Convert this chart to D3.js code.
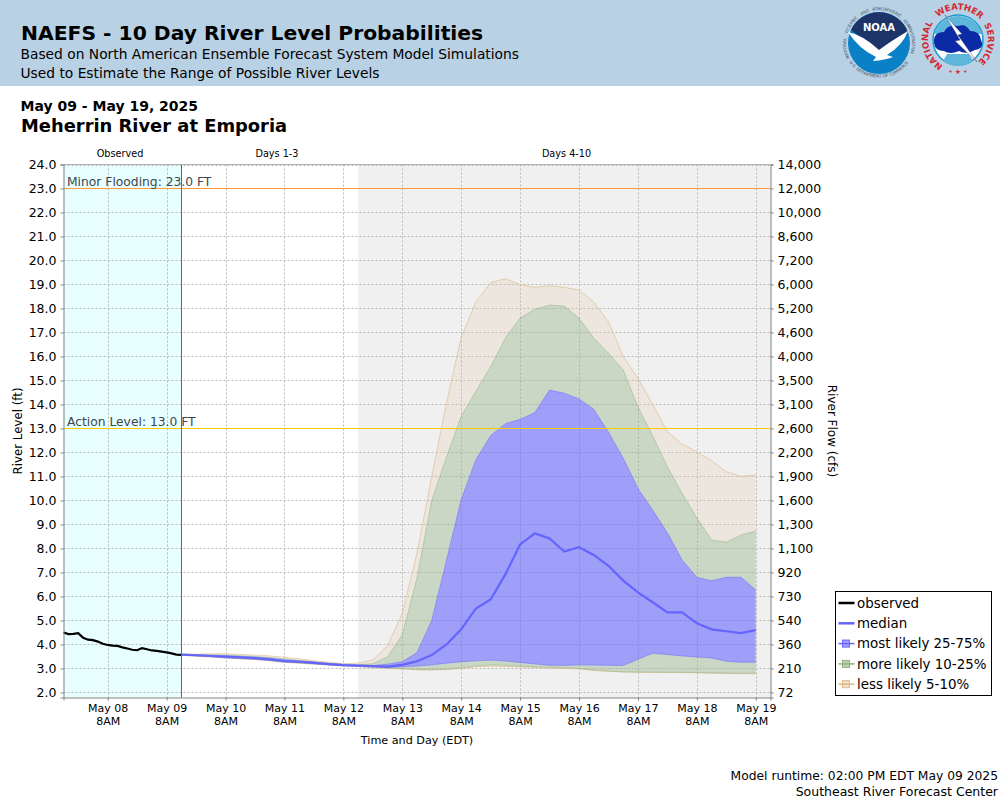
<!DOCTYPE html>
<html>
<head>
<meta charset="utf-8">
<title>NAEFS - 10 Day River Level Probabilities</title>
<script src="https://cdn.jsdelivr.net/npm/d3@7"></script>
<style>
  html, body { margin: 0; padding: 0; background: #fff; }
  svg { display: block; font-family: "DejaVu Sans", sans-serif; }
</style>
</head>
<body>
<svg id="chart"></svg>
<script>
// Chart data (times are EDT wall clock)
const parseTime = d3.utcParse("%Y-%m-%d %H");

const observedTimes = [
  "05-07 14", "05-07 16", "05-07 18", "05-07 20", "05-07 22", "05-08 00", "05-08 02", "05-08 04", "05-08 06",
  "05-08 08", "05-08 10", "05-08 12", "05-08 14", "05-08 16", "05-08 18", "05-08 20", "05-08 22", "05-09 00",
  "05-09 02", "05-09 04", "05-09 06", "05-09 08", "05-09 10", "05-09 12", "05-09 14"
].map((t) => parseTime("2025-" + t));
const observed = [
  4.5, 4.43, 4.44, 4.47, 4.28, 4.2, 4.18, 4.12, 4.03, 3.98, 3.95, 3.94, 3.88,
  3.83, 3.78, 3.76, 3.85, 3.8, 3.75, 3.73, 3.7, 3.67, 3.63, 3.58, 3.57
];

const forecastTimes = [
  "05-09 14", "05-09 20", "05-10 02", "05-10 08", "05-10 14", "05-10 20", "05-11 02", "05-11 08",
  "05-11 14", "05-11 20", "05-12 02", "05-12 08", "05-12 14", "05-12 20", "05-13 02", "05-13 08",
  "05-13 14", "05-13 20", "05-14 02", "05-14 08", "05-14 14", "05-14 20", "05-15 02", "05-15 08",
  "05-15 14", "05-15 20", "05-16 02", "05-16 08", "05-16 14", "05-16 20", "05-17 02", "05-17 08",
  "05-17 14", "05-17 20", "05-18 02", "05-18 08", "05-18 14", "05-18 20", "05-19 02", "05-19 08"
].map((t) => parseTime("2025-" + t));

const median = [
  3.58, 3.55, 3.52, 3.49, 3.46, 3.43, 3.38, 3.31, 3.28, 3.23, 3.18, 3.14, 3.12, 3.1, 3.08, 3.15, 3.3, 3.56, 4.0, 4.63,
  5.5, 5.88, 6.92, 8.17, 8.63, 8.42, 7.87, 8.05, 7.73, 7.28, 6.66, 6.17, 5.76, 5.34, 5.34, 4.88, 4.63, 4.55, 4.47, 4.6
];
const upper75 = [
  3.59, 3.57, 3.55, 3.53, 3.5, 3.47, 3.43, 3.36, 3.32, 3.27, 3.21, 3.16, 3.13, 3.12, 3.18, 3.28, 3.66, 5.0, 7.5, 10.03,
  11.7, 12.7, 13.2, 13.38, 13.66, 14.6, 14.47, 14.23, 13.8, 12.85, 11.76, 10.5, 9.6, 8.65, 7.52, 6.8, 6.65, 6.8, 6.8, 6.27
];
const lower25 = [
  3.57, 3.53, 3.5, 3.45, 3.42, 3.39, 3.34, 3.27, 3.24, 3.2, 3.16, 3.12, 3.1, 3.08, 3.03, 3.07, 3.1, 3.15, 3.22, 3.28,
  3.32, 3.35, 3.31, 3.25, 3.19, 3.13, 3.13, 3.15, 3.14, 3.13, 3.12, 3.38, 3.63, 3.58, 3.52, 3.48, 3.44, 3.3, 3.26, 3.26
];
const upper90 = [
  3.59, 3.58, 3.57, 3.56, 3.53, 3.5, 3.46, 3.4, 3.34, 3.28, 3.22, 3.18, 3.15, 3.2, 3.48, 4.4, 6.77, 10.0, 11.8, 13.5,
  14.55, 15.57, 16.77, 17.6, 17.97, 18.14, 18.1, 17.6, 16.77, 16.13, 15.44, 13.9, 12.7, 11.4, 10.3, 9.27, 8.35, 8.26, 8.56, 8.73
];
const lower10 = [
  3.56, 3.52, 3.49, 3.44, 3.41, 3.38, 3.33, 3.26, 3.23, 3.19, 3.15, 3.11, 3.09, 3.05, 3.02, 3.0, 2.95, 2.95, 2.97, 3.02,
  3.11, 3.14, 3.13, 3.1, 3.07, 3.05, 3.03, 3.0, 2.93, 2.89, 2.86, 2.85, 2.85, 2.84, 2.84, 2.83, 2.82, 2.81, 2.8, 2.8
];
const upper95 = [
  3.6, 3.6, 3.61, 3.61, 3.58, 3.56, 3.52, 3.47, 3.4, 3.32, 3.26, 3.2, 3.22, 3.35, 3.95, 5.3, 7.8, 11.0, 14.05, 16.8,
  18.27, 19.08, 19.24, 19.0, 18.88, 18.95, 18.88, 18.77, 18.27, 17.45, 16.0, 15.1, 14.0, 12.87, 12.35, 12.03, 11.66, 11.2, 11.0, 11.07
];
const lower5 = [
  3.55, 3.51, 3.48, 3.43, 3.4, 3.37, 3.32, 3.25, 3.22, 3.18, 3.14, 3.1, 3.08, 3.04, 3.0, 2.98, 2.95, 2.94, 2.96, 3.0,
  3.07, 3.1, 3.08, 3.06, 3.04, 3.01, 3.0, 2.99, 2.92, 2.88, 2.85, 2.84, 2.83, 2.83, 2.83, 2.82, 2.8, 2.79, 2.78, 2.78
];

const stageTicks = d3.range(2, 25);
const flowLabels = [
  "72", "210", "360", "540", "730", "920", "1,100", "1,300", "1,600", "1,900", "2,200", "2,600",
  "3,100", "3,500", "4,000", "4,600", "5,200", "6,000", "7,200", "8,600", "10,000", "12,000", "14,000"
];
const dayTicks = ["05-08", "05-09", "05-10", "05-11", "05-12", "05-13", "05-14", "05-15", "05-16", "05-17", "05-18", "05-19"]
  .map((t) => parseTime("2025-" + t + " 08"));

const thresholds = [
  { label: "Minor Flooding: 23.0 FT", value: 23, color: "#ff9933" },
  { label: "Action Level: 13.0 FT", value: 13, color: "#ffcc00" },
];

const timeStart = parseTime("2025-05-07 14");
const timeEnd = parseTime("2025-05-19 14");
const runTime = parseTime("2025-05-09 14");
const day4Start = parseTime("2025-05-12 14");

const tanColor = "rgb(222,184,135)";
const greenColor = "rgb(143,178,130)";
const blueColor = "rgb(100,100,255)";

// Set up the chart dimensions
const width = 1000;
const height = 800;
const plot = { left: 63.5, right: 770.5, top: 164.5, bottom: 697.5 };

const svg = d3.select("#chart").attr("width", width).attr("height", height);

const x = d3.scaleUtc().domain([timeStart, timeEnd]).range([plot.left, plot.right]);
const y = d3.scaleLinear().domain([1.79, 24]).range([plot.bottom, plot.top]);

// Header band
svg.append("rect").attr("width", width).attr("height", 86).attr("fill", "#b9d1e4");
svg.append("text").attr("x", 21).attr("y", 40).style("font-size", "20.3px").style("font-weight", "bold")
  .text("NAEFS - 10 Day River Level Probabilities");
svg.append("text").attr("x", 20.5).attr("y", 59).style("font-size", "13.8px")
  .text("Based on North American Ensemble Forecast System Model Simulations");
svg.append("text").attr("x", 20.5).attr("y", 78).style("font-size", "13.8px")
  .text("Used to Estimate the Range of Possible River Levels");
svg.append("text").attr("x", 20.5).attr("y", 110.5).style("font-size", "14px").style("font-weight", "bold")
  .text("May 09 - May 19, 2025");
svg.append("text").attr("x", 21).attr("y", 132).style("font-size", "17.9px").style("font-weight", "bold")
  .text("Meherrin River at Emporia");

// Logos
drawNoaaLogo(svg.append("g").attr("transform", "translate(879,43)"));
drawNwsLogo(svg.append("g").attr("transform", "translate(958,40)"));

function drawNoaaLogo(g) {
  g.append("circle").attr("r", 31).attr("fill", "#0a80c6");
  // dark sky on top, cut by the white bird
  g.append("path").attr("d", "M-28,-13 A31,31 0 0 1 28,-13 L24,-4 Q13,2 2,12 Q-12,-2 -28,-13 Z").attr("fill", "#1d3468");
  g.append("path").attr("d", "M-31,-11 Q-16,-8 0,7 Q12,-2 29,-12 Q24,2 8,12 L14,14 Q6,17 -6,18 L-3,14 Q-20,6 -31,-11 Z").attr("fill", "#fff");
  g.append("text").attr("text-anchor", "middle").attr("y", -12).attr("fill", "#fff")
    .style("font-size", "10px").style("font-weight", "bold").text("NOAA");
  const arcs = g.append("defs");
  arcs.append("path").attr("id", "noaaTop").attr("d", "M-29.5,15 A33,33 0 1 1 29.5,15");
  arcs.append("path").attr("id", "noaaBottom").attr("d", "M-31,17 A36,36 0 0 0 31,17");
  const topWords = [
    { word: "NATIONAL", offset: "0%" },
    { word: "OCEANIC", offset: "19%" },
    { word: "AND", offset: "36%" },
    { word: "ATMOSPHERIC", offset: "45%" },
    { word: "ADMINISTRATION", offset: "70%" },
  ];
  topWords.forEach((d) => {
    g.append("text").attr("fill", "#3d4c5c").style("font-size", "4.1px")
      .append("textPath").attr("href", "#noaaTop").attr("startOffset", d.offset).text(d.word);
  });
  g.append("text").attr("fill", "#3d4c5c").style("font-size", "4.1px")
    .append("textPath").attr("href", "#noaaBottom").attr("startOffset", "50%").attr("text-anchor", "middle")
    .text("U.S. DEPARTMENT OF COMMERCE");
}

function drawNwsLogo(g) {
  g.append("circle").attr("r", 25).attr("fill", "#fff").attr("stroke", "#1c9ad0").attr("stroke-width", 1.5);
  g.append("path").attr("d", "M-24,-6 A25,25 0 0 1 24,-6 Z").attr("fill", "#5fb6dc");
  g.append("path").attr("d", "M-15,21 A25,25 0 0 0 15,21 L11,14 L-11,14 Z").attr("fill", "#5fb6dc");
  g.append("path")
    .attr("d", "M-24,3 Q-25,-8 -14,-8 Q-10,-16 0,-14 Q8,-17 12,-9 Q22,-9 23,0 Q27,8 17,10 Q8,15 1,11 Q-8,15 -14,11 Q-23,11 -24,3 Z")
    .attr("fill", "#0b2aa5");
  g.append("path").attr("d", "M-13,-25 L4,-6 L0,-5 L19,22 L-3,1 L2,0 Z").attr("fill", "#fff").attr("stroke", "#23305f").attr("stroke-width", 0.4);
  const arcs = g.append("defs");
  arcs.append("path").attr("id", "nwsTop").attr("d", "M-15,25.5 A30,30 0 1 1 15,25.5");
  const words = [
    { word: "NATIONAL", offset: "0%" },
    { word: "WEATHER", offset: "36%" },
    { word: "SERVICE", offset: "70%" },
  ];
  words.forEach((d) => {
    g.append("text").attr("fill", "#d42630").style("font-size", "8.6px").style("font-weight", "bold")
      .append("textPath").attr("href", "#nwsTop").attr("startOffset", d.offset).text(d.word);
  });
  g.append("text").attr("y", 34).attr("text-anchor", "middle").attr("fill", "#d42630").style("font-size", "7px").text("• ★ •");
}

// Plot backgrounds
svg.append("rect").attr("x", x(timeStart)).attr("y", plot.top).attr("width", x(runTime) - x(timeStart))
  .attr("height", plot.bottom - plot.top).attr("fill", "#e8ffff");
svg.append("rect").attr("x", x(day4Start)).attr("y", plot.top).attr("width", x(timeEnd) - x(day4Start))
  .attr("height", plot.bottom - plot.top).attr("fill", "#f0f0f0");

// Grid
svg.append("g").selectAll("line").data(stageTicks).enter().append("line")
  .attr("x1", plot.left).attr("x2", plot.right)
  .attr("y1", (d) => Math.round(y(d)) + 0.5).attr("y2", (d) => Math.round(y(d)) + 0.5)
  .attr("stroke", "#bbbbbb").attr("stroke-dasharray", "2,2");
svg.append("g").selectAll("line").data(dayTicks).enter().append("line")
  .attr("y1", plot.top).attr("y2", plot.bottom)
  .attr("x1", (d) => Math.round(x(d)) + 0.5).attr("x2", (d) => Math.round(x(d)) + 0.5)
  .attr("stroke", "#bbbbbb").attr("stroke-dasharray", "2,2");

// Probability bands, outer to inner
const bandArea = d3.area().x((d) => x(d.t)).y0((d) => y(d.lo)).y1((d) => y(d.hi));
const bandLine = d3.line().x((d) => x(d.t)).y((d) => y(d.v));

function drawBand(hi, lo, color, fillOpacity) {
  const rows = forecastTimes.map((t, i) => ({ t: t, hi: hi[i], lo: lo[i] }));
  svg.append("path").attr("d", bandArea(rows)).attr("fill", color).attr("fill-opacity", fillOpacity);
}

function drawEdge(values, color, strokeOpacity) {
  const rows = forecastTimes.map((t, i) => ({ t: t, v: values[i] }));
  svg.append("path").attr("d", bandLine(rows)).attr("fill", "none")
    .attr("stroke", color).attr("stroke-width", 1).attr("stroke-opacity", strokeOpacity);
}

drawBand(upper95, upper90, tanColor, 0.17);
drawBand(lower5, lower10, tanColor, 0.17);
drawBand(upper90, upper75, greenColor, 0.4);
drawBand(lower10, lower25, greenColor, 0.4);
drawBand(upper75, lower25, blueColor, 0.58);
drawEdge(upper95, tanColor, 0.6);
drawEdge(lower5, tanColor, 0.6);
drawEdge(upper90, greenColor, 0.5);
drawEdge(lower10, greenColor, 0.5);
drawEdge(upper75, blueColor, 0.5);
drawEdge(lower25, blueColor, 0.5);

// Median and observed lines
svg.append("path")
  .attr("d", bandLine(forecastTimes.map((t, i) => ({ t: t, v: median[i] }))))
  .attr("fill", "none").attr("stroke", blueColor).attr("stroke-width", 2.2);
svg.append("path")
  .attr("d", bandLine(observedTimes.map((t, i) => ({ t: t, v: observed[i] }))))
  .attr("fill", "none").attr("stroke", "#000").attr("stroke-width", 2.2);

// Threshold lines and labels
thresholds.forEach((d) => {
  svg.append("line").attr("x1", plot.left).attr("x2", plot.right)
    .attr("y1", Math.round(y(d.value)) + 0.5).attr("y2", Math.round(y(d.value)) + 0.5)
    .attr("stroke", d.color);
  svg.append("text").attr("x", 67).attr("y", y(d.value) - 2.5).attr("fill", "#3c4650")
    .style("font-size", "12.3px").text(d.label);
});

// Model runtime marker
svg.append("line").attr("x1", Math.round(x(runTime)) + 0.5).attr("x2", Math.round(x(runTime)) + 0.5)
  .attr("y1", plot.top).attr("y2", plot.bottom).attr("stroke", "#e03030");

// Axes
const axisLeft = d3.axisLeft(y).tickValues(stageTicks).tickSize(3).tickPadding(4).tickFormat(d3.format(".1f"));
const axisRight = d3.axisRight(y).tickValues(stageTicks).tickSize(3).tickPadding(4)
  .tickFormat((d) => flowLabels[stageTicks.indexOf(d)]);
const axisBottom = d3.axisBottom(x).tickValues(dayTicks).tickSize(3).tickPadding(4).tickFormat("");

function styleAxis(g) {
  g.selectAll("text").attr("fill", "#000").style("font-family", "DejaVu Sans").style("font-size", "12.5px");
  g.selectAll("path, line").attr("stroke", "#808080");
}

svg.append("g").attr("transform", `translate(${plot.left},0)`).call(axisLeft).call(styleAxis);
svg.append("g").attr("transform", `translate(${plot.right},0)`).call(axisRight).call(styleAxis);
const bottomAxis = svg.append("g").attr("transform", `translate(0,${plot.bottom})`).call(axisBottom).call(styleAxis);

// Two line labels under each day tick
const dayLabel = d3.utcFormat("%b %d");
bottomAxis.selectAll(".tick text").each(function (d) {
  const t = d3.select(this).style("font-size", "11px").attr("y", 14.5).attr("dy", null);
  t.append("tspan").attr("x", 0).text(dayLabel(d));
  t.append("tspan").attr("x", 0).attr("dy", 13).text("8AM");
});

svg.append("line").attr("x1", plot.left).attr("x2", plot.right).attr("y1", plot.top).attr("y2", plot.top).attr("stroke", "#b0b0b0");

// Period labels on top
const periodLabels = [
  { text: "Observed", cx: 120 },
  { text: "Days 1-3", cx: 277 },
  { text: "Days 4-10", cx: 566.5 },
];
svg.append("g").selectAll("text").data(periodLabels).enter().append("text")
  .attr("x", (d) => d.cx).attr("y", 157).attr("text-anchor", "middle")
  .style("font-size", "9.7px").text((d) => d.text);

// Axis titles
svg.append("text").attr("x", 417).attr("y", 744).attr("text-anchor", "middle").style("font-size", "11.2px")
  .text("Time and Day (EDT)");
svg.append("text").attr("transform", "translate(22,431) rotate(-90)").attr("text-anchor", "middle").style("font-size", "11.8px")
  .text("River Level (ft)");
svg.append("text").attr("transform", "translate(828,431) rotate(90)").attr("text-anchor", "middle").style("font-size", "12px")
  .text("River Flow (cfs)");

// Legend
const legendItems = [
  { label: "observed", color: "#000", width: 2, swatch: false },
  { label: "median", color: blueColor, width: 2, swatch: false },
  { label: "most likely 25-75%", color: blueColor, width: 1, swatch: true, opacity: 0.6 },
  { label: "more likely 10-25%", color: greenColor, width: 1, swatch: true, opacity: 0.6 },
  { label: "less likely 5-10%", color: tanColor, width: 1, swatch: true, opacity: 0.4 },
];
const legend = svg.append("g").attr("transform", "translate(835.5,591.5)");
legend.append("rect").attr("width", 156).attr("height", 104).attr("fill", "#fff").attr("stroke", "#000");
const legendRows = legend.selectAll("g").data(legendItems).enter().append("g")
  .attr("transform", (d, i) => `translate(0,${11.5 + i * 20.3})`);
legendRows.append("line").attr("x1", 3).attr("x2", 19).attr("stroke", (d) => d.color).attr("stroke-width", (d) => d.width + 0.5);
legendRows.filter((d) => d.swatch).append("rect").attr("x", 7).attr("y", -3.5).attr("width", 7).attr("height", 7)
  .attr("fill", (d) => d.color).attr("fill-opacity", (d) => d.opacity).attr("stroke", (d) => d.color);
legendRows.append("text").attr("x", 21.5).attr("dy", "0.36em").style("font-size", "13.4px").text((d) => d.label);

// Footer
svg.append("text").attr("x", 998).attr("y", 780).attr("text-anchor", "end").style("font-size", "12.3px")
  .text("Model runtime: 02:00 PM EDT May 09 2025");
svg.append("text").attr("x", 998).attr("y", 796).attr("text-anchor", "end").style("font-size", "12.5px")
  .text("Southeast River Forecast Center");
</script>
</body>
</html>
